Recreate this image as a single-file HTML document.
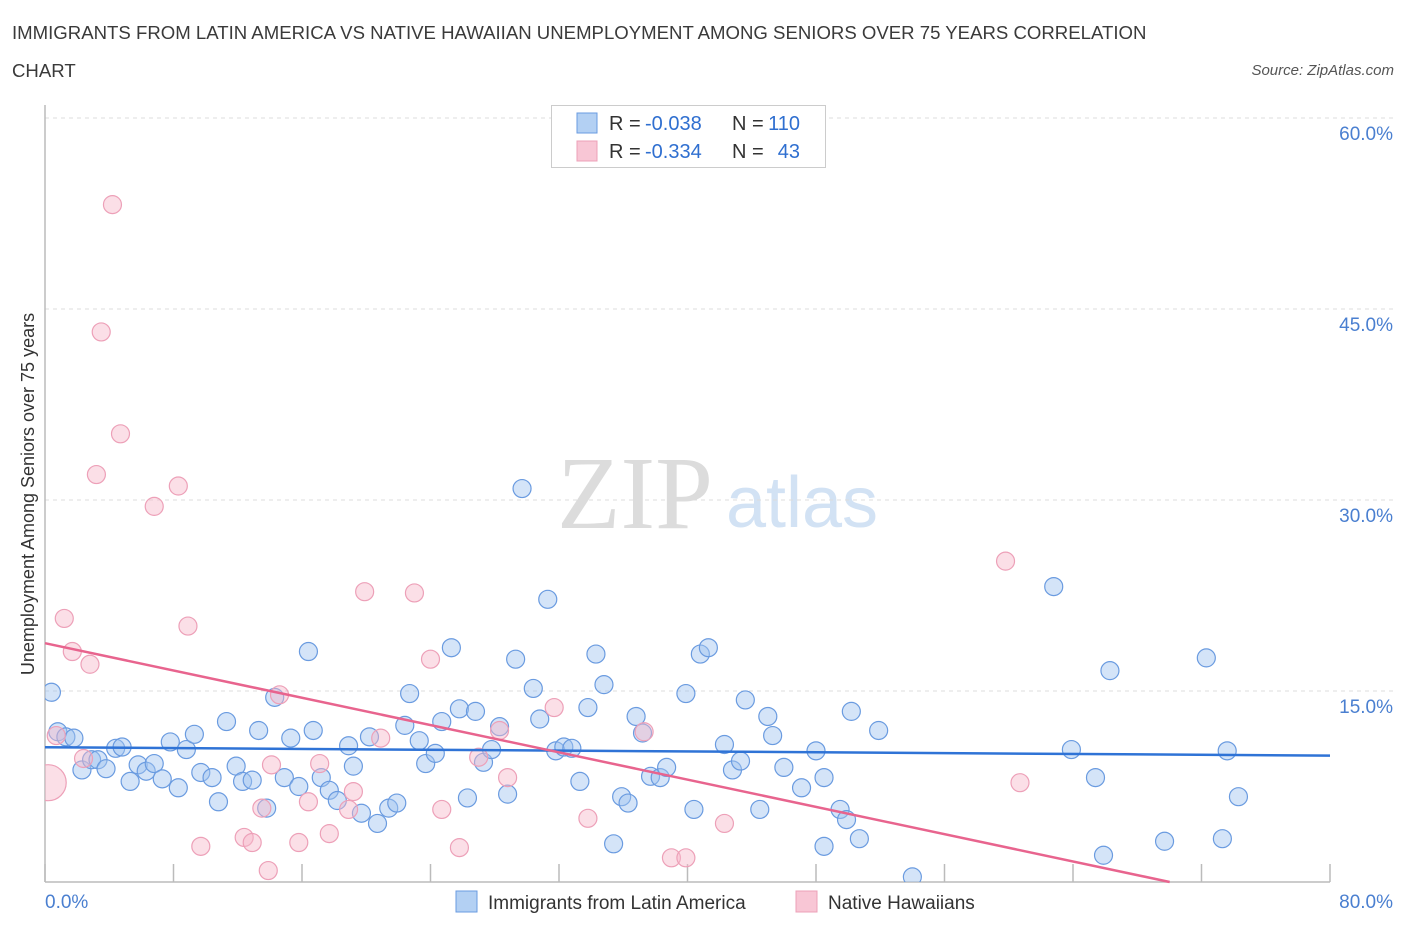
<!DOCTYPE html>
<html><head><meta charset="utf-8"><style>
body{margin:0;background:#fff;font-family:"Liberation Sans",sans-serif}
#wrap{position:relative;width:1406px;height:930px}
.t{position:absolute;color:#333}
</style></head><body>
<div id="wrap">
<div class="t" style="left:12px;top:14px;font-size:18.6px;line-height:38px;width:1200px;color:#3a3a3a;white-space:nowrap">IMMIGRANTS FROM LATIN AMERICA VS NATIVE HAWAIIAN UNEMPLOYMENT AMONG SENIORS OVER 75 YEARS CORRELATION<br>CHART</div>
<div class="t" style="right:12px;top:62px;font-size:15px;font-style:italic;color:#555">Source: ZipAtlas.com</div>
<svg id="svg" width="1406" height="930" style="position:absolute;left:0;top:0"></svg>
</div>
<script>
const blueX=[0.4,0.8,1.3,1.8,2.3,2.9,3.3,3.8,4.4,4.8,5.3,5.8,6.3,6.8,7.3,7.8,8.3,8.8,9.3,9.7,10.4,10.8,11.3,11.9,12.3,12.9,13.3,13.8,14.3,14.9,15.3,15.8,16.4,16.7,17.2,17.7,18.2,18.9,19.2,19.7,20.2,20.7,21.4,21.9,22.4,22.7,23.3,23.7,24.3,24.7,25.3,25.8,26.3,26.8,27.3,27.8,28.3,28.8,29.3,29.7,30.4,30.8,31.3,31.8,32.3,32.8,33.3,33.8,34.3,34.8,35.4,35.9,36.3,36.8,37.2,37.7,38.3,38.7,39.9,40.4,40.8,41.3,42.3,42.8,43.3,43.6,44.5,45.0,45.3,46.0,47.1,48.0,48.5,49.5,49.9,50.2,48.5,50.7,51.9,54.0,62.8,63.9,65.4,65.9,66.3,69.7,72.3,73.3,73.6,74.3];
const blueY=[14.9,11.8,11.4,11.3,8.8,9.6,9.6,8.9,10.5,10.6,7.9,9.2,8.7,9.3,8.1,11.0,7.4,10.4,11.6,8.6,8.2,6.3,12.6,9.1,7.9,8.0,11.9,5.8,14.5,8.2,11.3,7.5,18.1,11.9,8.2,7.2,6.4,10.7,9.1,5.4,11.4,4.6,5.8,6.2,12.3,14.8,11.1,9.3,10.1,12.6,18.4,13.6,6.6,13.4,9.4,10.4,12.2,6.9,17.5,30.9,15.2,12.8,22.2,10.3,10.6,10.5,7.9,13.7,17.9,15.5,3.0,6.7,6.2,13.0,11.7,8.3,8.2,9.0,14.8,5.7,17.9,18.4,10.8,8.8,9.5,14.3,5.7,13.0,11.5,9.0,7.4,10.3,8.2,5.7,4.9,13.4,2.8,3.4,11.9,0.4,23.2,10.4,8.2,2.1,16.6,3.2,17.6,3.4,10.3,6.7];
const pinkX=[0.2,0.7,1.2,1.7,2.4,2.8,3.5,4.2,4.7,3.2,6.8,8.3,8.9,9.7,12.4,12.9,13.5,13.9,14.1,14.6,15.8,16.4,17.1,17.7,18.9,19.2,19.9,20.9,23.0,24.0,24.7,25.8,27.0,28.3,28.8,31.7,33.8,37.3,39.0,39.9,42.3,59.8,60.7];
const pinkY=[7.8,11.5,20.7,18.1,9.7,17.1,43.2,53.2,35.2,32.0,29.5,31.1,20.1,2.8,3.5,3.1,5.8,0.9,9.2,14.7,3.1,6.3,9.3,3.8,5.7,7.1,22.8,11.3,22.7,17.5,5.7,2.7,9.8,11.9,8.2,13.7,5.0,11.8,1.9,1.9,4.6,25.2,7.8];
const pinkR=[18,9,9,9,9,9,9,9,9,9,9,9,9,9,9,9,9,9,9,9,9,9,9,9,9,9,9,9,9,9,9,9,9,9,9,9,9,9,9,9,9,9,9];
const yTicks=[15,30,45,60];
const yTickLabels=["15.0%","30.0%","45.0%","60.0%"];
const xTicks=[0,8,16,24,32,40,48,56,64,72,80];

const NS="http://www.w3.org/2000/svg";
const svg=document.getElementById('svg');
const X0=45,X1=1330,Y0=882,YPX=12.733;
const xs=v=>X0+v*(X1-X0)/80;
const ys=v=>Y0-v*YPX;
function mk(tag,attrs,parent){const e=document.createElementNS(NS,tag);for(const k in attrs)e.setAttribute(k,attrs[k]);(parent||svg).appendChild(e);return e;}
const defs=mk('defs',{});
const cp=mk('clipPath',{id:'cp'},defs);
mk('rect',{x:X0,y:100,width:1300,height:Y0-100},cp);
const wm1=mk('text',{x:635,y:528,'font-size':104,'font-family':'Liberation Serif','fill':'#dcdcdc','text-anchor':'middle'});
wm1.textContent='ZIP';
const wm2=mk('text',{x:802,y:527,'font-size':72,'font-family':'Liberation Sans','fill':'#d2e2f4','text-anchor':'middle'});
wm2.textContent='atlas';
yTicks.forEach((v,i)=>{
 const g=mk('line',{x1:X0,x2:1395,y1:ys(v),y2:ys(v),stroke:'#dcdcdc','stroke-dasharray':'4,4'});
 
 const t=mk('text',{x:1393,y:ys(v)+22,'font-size':19,fill:'#4a7fd0','text-anchor':'end'});
 t.textContent=yTickLabels[i];
});
const ax=mk('line',{x1:X0,x2:X0,y1:105,y2:Y0,stroke:'#bbb','stroke-width':1.5});

const bx=mk('line',{x1:X0,x2:X1,y1:Y0,y2:Y0,stroke:'#bbb','stroke-width':1.5});

xTicks.forEach(v=>{const t=mk('line',{x1:xs(v),x2:xs(v),y1:864,y2:Y0,stroke:'#bbb','stroke-width':1.5});
 });
const pl=mk('g',{'clip-path':'url(#cp)'});

blueX.forEach((x,i)=>{const c=mk('circle',{cx:xs(x),cy:ys(blueY[i]),r:9,fill:'rgba(160,196,240,0.45)',stroke:'#6a9be0','stroke-width':1.2},pl);
 });
pinkX.forEach((x,i)=>{const c=mk('circle',{cx:xs(x),cy:ys(pinkY[i]),r:pinkR[i],fill:'rgba(246,184,202,0.45)',stroke:'#eda0b8','stroke-width':1.2},pl);
 });
function reg(X,Y){const n=X.length;let sx=0,sy=0,sxx=0,sxy=0;for(let i=0;i<n;i++){sx+=X[i];sy+=Y[i];sxx+=X[i]*X[i];sxy+=X[i]*Y[i];}
 const b=(n*sxy-sx*sy)/(n*sxx-sx*sx);return [(sy-b*sx)/n,b];}
const [ba,bb]=reg(blueX,blueY);
const bl=mk('line',{x1:xs(0),y1:ys(ba),x2:xs(80),y2:ys(ba+bb*80),stroke:'#2f73d6','stroke-width':2.5});

const [pa,pb]=reg(pinkX,pinkY);
let xe=80;if(pb<0&&pa+pb*80<0)xe=-pa/pb;
const pkl=mk('line',{x1:xs(0),y1:ys(pa),x2:xs(xe),y2:ys(pa+pb*xe),stroke:'#e8648e','stroke-width':2.5});

const x0=mk('text',{x:45,y:908,'font-size':19,fill:'#4a7fd0'});x0.textContent='0.0%';
const x1=mk('text',{x:1393,y:908,'font-size':19,fill:'#4a7fd0','text-anchor':'end'});x1.textContent='80.0%';
const yt=mk('text',{x:0,y:0,'font-size':18,fill:'#333','text-anchor':'middle',transform:'translate(34,494) rotate(-90)'});
yt.textContent='Unemployment Among Seniors over 75 years';
const lg=mk('g',{});
mk('rect',{x:551.5,y:105.5,width:274,height:62,fill:'#fff',stroke:'#ccc'},lg);
[[123,'rgba(160,196,240,0.8)','#6a9be0','-0.038','110'],[151,'rgba(246,184,202,0.8)','#eda0b8','-0.334','43']].forEach(r=>{
 mk('rect',{x:577,y:r[0]-10,width:20,height:20,fill:r[1],stroke:r[2]},lg);
 const a=mk('text',{x:609,y:r[0]+7,'font-size':20,fill:'#333'},lg);a.textContent='R =';
 const b=mk('text',{x:645,y:r[0]+7,'font-size':20,fill:'#2f6fd0'},lg);b.textContent=r[3];
 const c=mk('text',{x:732,y:r[0]+7,'font-size':20,fill:'#333'},lg);c.textContent='N =';
 const d=mk('text',{x:800,y:r[0]+7,'font-size':20,fill:'#2f6fd0','text-anchor':'end'},lg);d.textContent=r[4];
});
[[456,'rgba(160,196,240,0.8)','#6a9be0','Immigrants from Latin America'],[796,'rgba(246,184,202,0.8)','#eda0b8','Native Hawaiians']].forEach(r=>{
 const g=mk('g',{});
 mk('rect',{x:r[0],y:891,width:21,height:21,fill:r[1],stroke:r[2]},g);
 const t=mk('text',{x:r[0]+32,y:909,'font-size':19,fill:'#333'},g);t.textContent=r[3];
});
</script>
</body></html>
